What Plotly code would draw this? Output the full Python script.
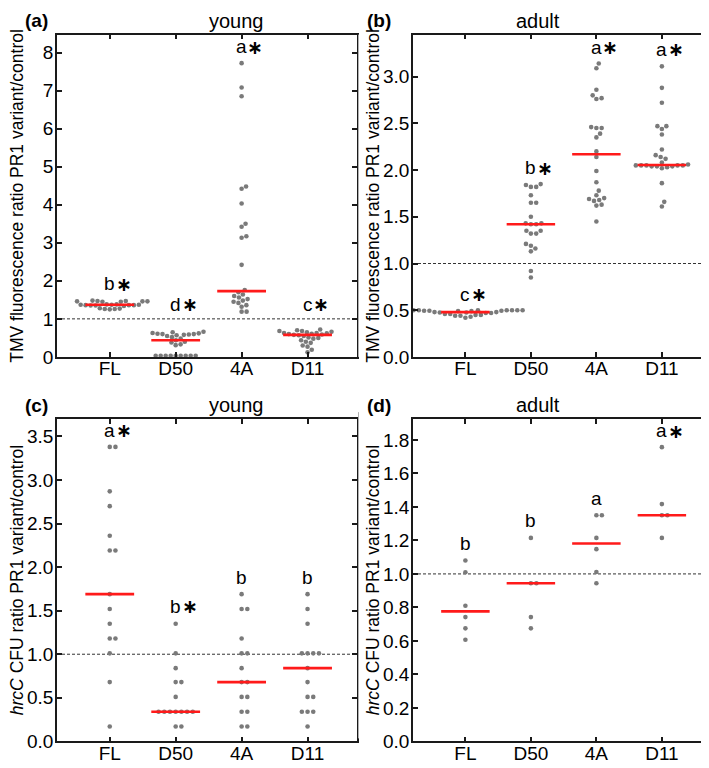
import numpy as np
import plotly.graph_objects as go

groups = ["FL", "D50", "4A", "D11"]

# (a) TMV fluorescence ratio, young plants
tmv_young_FL = [1.48, 1.47, 1.47, 1.46, 1.46, 1.46, 1.45, 1.45, 1.38, 1.38, 1.37, 1.37,
                1.37, 1.36, 1.36, 1.36, 1.35, 1.35, 1.34, 1.28, 1.27, 1.26, 1.26, 1.25]
tmv_young_D50 = [0.66, 0.65, 0.63, 0.62, 0.61, 0.60, 0.60, 0.59, 0.58, 0.57, 0.55, 0.52,
                 0.48, 0.44, 0.40, 0.38, 0.33, 0.31,
                 0.03, 0.03, 0.03, 0.03, 0.03, 0.03, 0.03, 0.03, 0.03]
tmv_young_4A = [7.72, 7.08, 6.85, 4.48, 4.42, 4.03, 3.50, 3.42, 3.17, 3.13, 2.42, 1.76,
                1.70, 1.64, 1.60, 1.56, 1.52, 1.48, 1.45, 1.42, 1.36, 1.32, 1.19, 1.19]
tmv_young_D11 = [0.72, 0.70, 0.68, 0.68, 0.66, 0.65, 0.63, 0.63, 0.62, 0.61, 0.60, 0.59,
                 0.58, 0.57, 0.55, 0.51, 0.50, 0.48, 0.44, 0.40, 0.37, 0.30, 0.27, 0.19, 0.12]

# (b) TMV fluorescence ratio, adult plants
tmv_adult_FL = [0.50, 0.50, 0.50, 0.50, 0.50, 0.50, 0.50, 0.50, 0.495, 0.495, 0.495,
                0.49, 0.49, 0.48, 0.48, 0.475, 0.475, 0.47, 0.47, 0.46, 0.46, 0.45,
                0.45, 0.44, 0.44, 0.43, 0.42]
tmv_adult_D50 = [1.85, 1.84, 1.82, 1.82, 1.73, 1.65, 1.65, 1.50, 1.43, 1.43, 1.42, 1.42,
                 1.35, 1.35, 1.32, 1.32, 1.21, 1.19, 1.16, 1.13, 0.92, 0.85]
tmv_adult_4A = [3.14, 3.09, 2.86, 2.80, 2.77, 2.76, 2.46, 2.45, 2.45, 2.39, 2.35, 2.20,
                2.14, 1.99, 1.87, 1.78, 1.73, 1.70, 1.69, 1.68, 1.67, 1.63, 1.62, 1.45]
tmv_adult_D11 = [3.11, 2.88, 2.72, 2.47, 2.47, 2.44, 2.38, 2.22, 2.16, 2.14, 2.12, 2.08,
                 2.06, 2.05, 2.05, 2.05, 2.05, 2.05, 2.04, 2.04, 2.04, 2.03, 2.02,
                 1.86, 1.66, 1.61]

# (c) hrcC CFU ratio, young plants
cfu_young_FL = [3.38, 3.38, 2.87, 2.70, 2.36, 2.19, 2.19, 1.69, 1.52, 1.35, 1.18, 1.18,
                1.01, 0.68, 0.17]
cfu_young_D50 = [1.35, 1.01, 0.84, 0.68, 0.68, 0.51, 0.34, 0.34, 0.34, 0.34, 0.34, 0.34,
                 0.34, 0.17, 0.17]
cfu_young_4A = [1.69, 1.52, 1.52, 1.18, 1.01, 1.01, 0.84, 0.68, 0.68, 0.51, 0.51, 0.34,
                0.34, 0.17, 0.17]
cfu_young_D11 = [1.69, 1.52, 1.35, 1.01, 1.01, 1.01, 1.01, 0.84, 0.68, 0.51, 0.51, 0.34,
                 0.34, 0.34, 0.17]

# (d) hrcC CFU ratio, adult plants
cfu_adult_FL = [1.08, 1.01, 0.81, 0.742, 0.675, 0.607]
cfu_adult_D50 = [1.215, 0.944, 0.944, 0.742, 0.675]
cfu_adult_4A = [1.35, 1.35, 1.215, 1.148, 1.011, 0.944]
cfu_adult_D11 = [1.757, 1.417, 1.35, 1.35, 1.215]

# significance letters, asterisks and the baseline height of each label
letters_a = ["b", "d", "a", "c"]
stars_a = [True, True, True, True]
label_y_a = [1.77, 1.23, 8.0, 1.23]
letters_b = ["c", "b", "a", "a"]
stars_b = [True, True, True, True]
label_y_b = [0.605, 1.96, 3.25, 3.23]
letters_c = ["a", "b", "b", "b"]
stars_c = [True, True, False, False]
label_y_c = [3.5, 1.48, 1.815, 1.815]
letters_d = ["b", "b", "a", "a"]
stars_d = [False, False, False, True]
label_y_d = [1.147, 1.284, 1.417, 1.82]

W, H = 709, 768
FONT = "Liberation Sans, Arial, sans-serif"
DOT = "#7a7a7a"
XR = [-0.8, 3.75]


def swarm(values, px_y, px_x, gap):
    vals = np.asarray(values, float)
    placed = []
    offs = np.zeros(len(vals))
    for i in np.argsort(vals, kind="stable"):
        y = vals[i] * px_y
        cands = [0.0]
        for px, py in placed:
            dy = y - py
            if abs(dy) < gap:
                dx = np.sqrt(gap ** 2 - dy ** 2)
                cands += [px + dx, px - dx]
        for c in sorted(cands, key=lambda c: (round(abs(c), 6), -c)):
            if all((c - px) ** 2 + (y - py) ** 2 >= gap ** 2 - 1e-6 for px, py in placed):
                break
        placed.append((c, y))
        offs[i] = c / px_x
    return offs


panels = [
    dict(n=1, data=[tmv_young_FL, tmv_young_D50, tmv_young_4A, tmv_young_D11],
         ymax=8.47, dtick=1, fmt="d", left=49, right=349, top=27, bottom=354,
         tag="(a)", title="young", ytitle="TMV fluorescence ratio PR1 variant/control",
         letters=letters_a, stars=stars_a, ly=label_y_a, gap=5.0),
    dict(n=2, data=[tmv_adult_FL, tmv_adult_D50, tmv_adult_4A, tmv_adult_D11],
         ymax=3.45, dtick=0.5, fmt=".1f", left=405, right=703, top=27, bottom=354,
         tag="(b)", title="adult", ytitle="TMV fluorescence ratio PR1 variant/control",
         letters=letters_b, stars=stars_b, ly=label_y_b, gap=5.3),
    dict(n=3, data=[cfu_young_FL, cfu_young_D50, cfu_young_4A, cfu_young_D11],
         ymax=3.7, dtick=0.5, fmt=".1f", left=49, right=349, top=417, bottom=744,
         tag="(c)", title="young", ytitle="<i>hrcC</i> CFU ratio PR1 variant/control",
         letters=letters_c, stars=stars_c, ly=label_y_c, gap=5.7),
    dict(n=4, data=[cfu_adult_FL, cfu_adult_D50, cfu_adult_4A, cfu_adult_D11],
         ymax=1.925, dtick=0.2, fmt=".1f", left=405, right=703, top=417, bottom=744,
         tag="(d)", title="adult", ytitle="<i>hrcC</i> CFU ratio PR1 variant/control",
         letters=letters_d, stars=stars_d, ly=label_y_d, gap=5.5),
]

fig = go.Figure()
annotations = []
shapes = []

for p in panels:
    n = p["n"]
    sx = "" if n == 1 else str(n)
    xref, yref = "x" + sx, "y" + sx
    px_y = (p["bottom"] - p["top"]) / p["ymax"]
    px_x = (p["right"] - p["left"]) / (XR[1] - XR[0])

    for i, vals in enumerate(p["data"]):
        xs = i + swarm(vals, px_y, px_x, p["gap"])
        fig.add_trace(go.Scatter(x=xs, y=vals, mode="markers", xaxis=xref, yaxis=yref,
                                 marker=dict(color=DOT, size=4.6, line=dict(width=0)),
                                 cliponaxis=False, showlegend=False, hoverinfo="y"))
    for i, vals in enumerate(p["data"]):
        med = float(np.median(vals))
        fig.add_trace(go.Scatter(x=[i - 0.37, i + 0.37], y=[med, med], mode="lines",
                                 xaxis=xref, yaxis=yref, line=dict(color="#ff1a1a", width=2.6),
                                 showlegend=False, hoverinfo="skip"))

    # reference line at ratio 1
    shapes.append(dict(type="line", xref=xref + " domain", yref=yref, x0=0, x1=1, y0=1, y1=1,
                       line=dict(color="#333333", width=1, dash="3px,2px"), layer="below"))

    for i in range(4):
        annotations.append(dict(x=i, y=p["ly"][i], xref=xref, yref=yref, text=p["letters"][i],
                                showarrow=False, yanchor="middle", yshift=6,
                                font=dict(family=FONT, size=19, color="black")))
        if p["stars"][i]:
            annotations.append(dict(x=i + 0.21, y=p["ly"][i], xref=xref, yref=yref,
                                    text="<b>∗</b>", showarrow=False, yanchor="middle", yshift=6,
                                    font=dict(family="DejaVu Sans", size=19, color="black")))

    xd = [p["left"] / W, p["right"] / W]
    yd = [1 - p["bottom"] / H, 1 - p["top"] / H]
    axis = dict(showline=True, mirror="ticks", linecolor="#1a1a1a", linewidth=1.5,
                ticks="inside", ticklen=5, tickwidth=1.5, tickcolor="#1a1a1a",
                showgrid=False, zeroline=False, tickfont=dict(family=FONT, size=19, color="black"))
    fig.update_layout(**{
        ("xaxis" + sx): dict(axis, domain=xd, range=XR, anchor=yref, tickmode="array",
                             tickvals=[0, 1, 2, 3], ticktext=groups, ticklabelstandoff=-6),
        ("yaxis" + sx): dict(axis, domain=yd, range=[0, p["ymax"]], anchor=xref,
                             tick0=0, dtick=p["dtick"], tickformat=p["fmt"],
                             ticklabelstandoff=-2),
    })

    cx = (p["left"] + p["right"]) / 2 / W
    cy = 1 - (p["top"] + p["bottom"]) / 2 / H
    annotations.append(dict(x=cx, y=1 - (p["top"] - 14) / H, xref="paper", yref="paper",
                            text=p["title"], showarrow=False, yanchor="middle",
                            font=dict(family=FONT, size=20, color="black")))
    annotations.append(dict(x=(p["left"] - 34) / W, y=1 - (p["top"] - 14) / H, xref="paper",
                            yref="paper", text="<b>" + p["tag"] + "</b>", showarrow=False,
                            yanchor="middle", font=dict(family=FONT, size=19, color="black")))
    annotations.append(dict(x=(p["left"] - 40) / W, y=cy, xref="paper", yref="paper",
                            text=p["ytitle"], textangle=-90, showarrow=False,
                            xanchor="center", yanchor="middle",
                            font=dict(family=FONT, size=17.5, color="black")))

# thin grey rule between the panel columns
for top, bottom in [(27, 354), (410, 741)]:
    shapes.append(dict(type="line", xref="paper", yref="paper", x0=350.5 / W, x1=350.5 / W,
                       y0=1 - bottom / H, y1=1 - top / H, line=dict(color="#b0b0b0", width=1)))

fig.update_layout(width=W, height=H, margin=dict(l=0, r=0, t=0, b=0),
                  paper_bgcolor="white", plot_bgcolor="white",
                  annotations=annotations, shapes=shapes, showlegend=False)

fig.write_html("out.html")
